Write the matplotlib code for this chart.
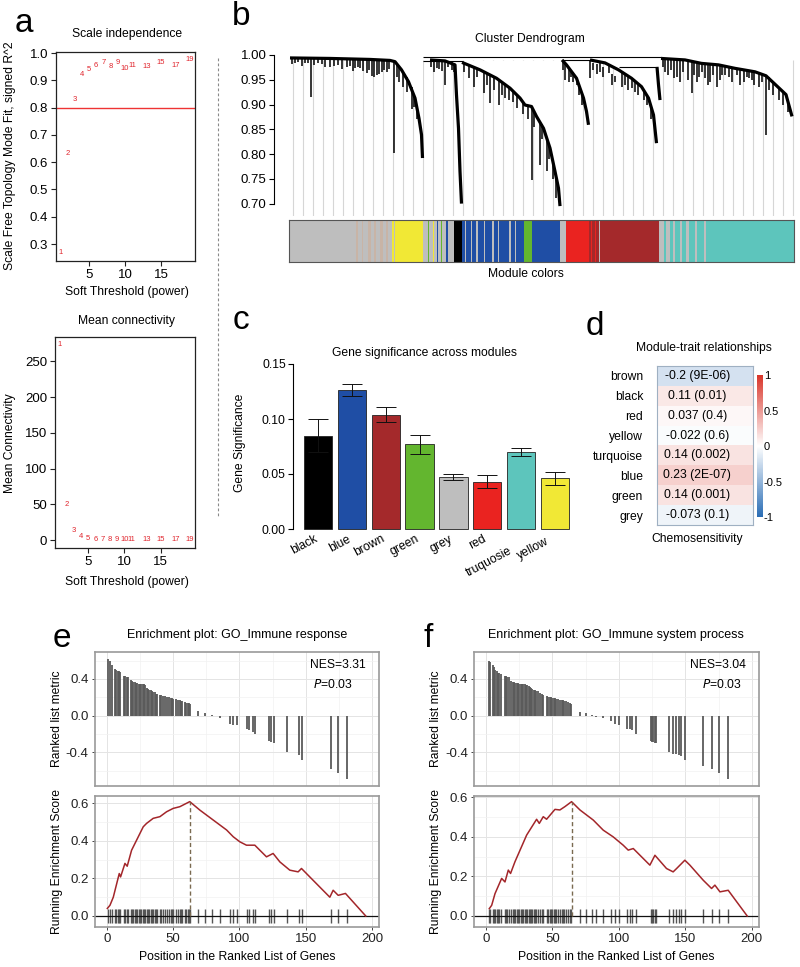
import numpy as np
import matplotlib
matplotlib.use("Agg")
import matplotlib.pyplot as plt
from matplotlib.colors import LinearSegmentedColormap
from matplotlib.lines import Line2D
from matplotlib.ticker import FormatStrFormatter

plt.rcParams["font.family"] = ["Liberation Sans", "DejaVu Sans"]
plt.rcParams["axes.unicode_minus"] = False

W, H = 800, 967

# ---------------- panel a: soft threshold ----------------
powers = [1, 2, 3, 4, 5, 6, 7, 8, 9, 10, 11, 13, 15, 17, 19]
sft_r2 = [0.27, 0.63, 0.828, 0.92, 0.941, 0.956, 0.964, 0.95, 0.964, 0.943,
          0.956, 0.952, 0.964, 0.953, 0.975]
mean_k = [274, 50, 13, 4.6, 2.3, 1.2, 0.7, 0.5, 0.3, 0.2, 0.15, 0.1, 0.06, 0.04, 0.03]

# ---------------- panel b: dendrogram ----------------
spine_a_x = [2, 82, 162, 202, 212, 225, 239, 252, 260, 265, 267]
spine_a_h = [0.994, 0.993, 0.991, 0.989, 0.9865, 0.97, 0.946, 0.913, 0.872, 0.839, 0.792]
spine_b_x = [282, 312, 332, 335, 339, 342, 345]
spine_b_h = [0.99, 0.988, 0.98, 0.919, 0.852, 0.765, 0.70]
spine_b2_x = [346, 382, 415, 442, 462, 472, 485, 495, 509, 522, 532, 539, 542]
spine_b2_h = [0.985, 0.97, 0.953, 0.933, 0.913, 0.899, 0.896, 0.876, 0.852, 0.812,
              0.765, 0.731, 0.695]
spine_c1_x = [546, 555, 575, 589, 595, 599]
spine_c1_h = [0.99, 0.98, 0.953, 0.913, 0.886, 0.859]
spine_c2_x = [602, 632, 659, 685, 705, 719, 729, 735]
spine_c2_h = [0.99, 0.984, 0.97, 0.953, 0.936, 0.913, 0.879, 0.822]
spine_c3_x = [736, 739, 742]
spine_c3_h = [0.976, 0.94, 0.909]
spine_d_x = [744, 792, 825, 859, 892, 932, 954, 973, 994, 1006]
spine_d_h = [0.993, 0.99, 0.983, 0.98, 0.973, 0.966, 0.958, 0.94, 0.92, 0.876]

join_left = [268, 268, 546, 659]
join_right = [744, 348, 602, 736]
join_h = [0.9968, 0.9885, 0.990, 0.976]

# branch drops hanging from the spines: leaf position, top, bottom
spike_x = [5, 12, 18, 25, 32, 38, 44, 50, 58, 65, 72, 82, 90, 98, 105, 115, 122, 128, 132,
           137, 142, 148, 155, 160, 165, 170, 175, 180, 185, 190, 195, 200, 209, 215, 220,
           228, 235, 245, 250, 256,
           284, 289, 295, 300, 305, 312, 318, 325, 330,
           350, 359, 369, 375, 389, 395, 402, 410, 419, 425, 432, 440, 448, 455, 468, 478,
           485, 490, 502, 505, 515, 520, 528, 534,
           548, 552, 559, 563, 568, 575, 580, 585,
           602, 608, 615, 622, 628, 639, 645, 652, 665, 672, 678, 685, 692, 698, 709, 715, 724,
           748, 752, 758, 763, 769, 775, 782, 788, 797, 805, 810, 815, 820, 826, 832, 838,
           842, 848, 855, 862, 866, 872, 880, 886, 895, 902, 910, 915, 919, 925, 929, 940,
           945, 954, 960, 968, 980, 988, 998]
spike_top = [0.994, 0.994, 0.994, 0.994, 0.994, 0.994, 0.994, 0.993, 0.993, 0.993, 0.993,
             0.993, 0.993, 0.993, 0.992, 0.992, 0.992, 0.992, 0.992, 0.991, 0.991, 0.991,
             0.991, 0.991, 0.991, 0.990, 0.990, 0.990, 0.990, 0.990, 0.989, 0.989, 0.990,
             0.982, 0.976, 0.966, 0.955, 0.935, 0.92, 0.90,
             0.99, 0.99, 0.99, 0.99, 0.989, 0.988, 0.988, 0.985, 0.982,
             0.983, 0.978, 0.974, 0.972, 0.966, 0.963, 0.96, 0.955, 0.95, 0.946, 0.94, 0.935,
             0.93, 0.92, 0.905, 0.897, 0.896, 0.888, 0.864, 0.86, 0.834, 0.818, 0.78, 0.755,
             0.99, 0.983, 0.975, 0.97, 0.965, 0.953, 0.94, 0.925,
             0.99, 0.984, 0.981, 0.985, 0.975, 0.978, 0.962, 0.958, 0.967, 0.96, 0.957, 0.953,
             0.948, 0.942, 0.93, 0.92, 0.895,
             0.993, 0.993, 0.992, 0.992, 0.992, 0.991, 0.991, 0.99, 0.989, 0.987, 0.986,
             0.985, 0.984, 0.983, 0.983, 0.982, 0.982, 0.981, 0.98, 0.98, 0.979, 0.977,
             0.976, 0.974, 0.972, 0.972, 0.97, 0.969, 0.969, 0.967, 0.967, 0.964, 0.963,
             0.958, 0.955, 0.948, 0.935, 0.928, 0.91]
spike_bottom = [0.982, 0.984, 0.985, 0.978, 0.983, 0.984, 0.916, 0.98, 0.983, 0.982, 0.975,
                0.976, 0.978, 0.98, 0.972, 0.976, 0.978, 0.968, 0.973, 0.975, 0.973, 0.968,
                0.963, 0.97, 0.958, 0.955, 0.96, 0.962, 0.966, 0.97, 0.966, 0.972, 0.802,
                0.955, 0.945, 0.935, 0.926, 0.89, 0.895, 0.87,
                0.976, 0.966, 0.973, 0.972, 0.968, 0.94, 0.975, 0.97, 0.965,
                0.965, 0.953, 0.936, 0.955, 0.923, 0.94, 0.903, 0.93, 0.899, 0.92, 0.913,
                0.91, 0.905, 0.893, 0.88, 0.87, 0.748, 0.855, 0.778, 0.83, 0.765, 0.79, 0.75,
                0.712,
                0.97, 0.95, 0.946, 0.955, 0.945, 0.94, 0.92, 0.9,
                0.954, 0.97, 0.962, 0.966, 0.955, 0.963, 0.94, 0.945, 0.936, 0.94, 0.93, 0.933,
                0.925, 0.92, 0.909, 0.9, 0.87,
                0.975, 0.966, 0.96, 0.97, 0.953, 0.955, 0.946, 0.965, 0.95, 0.923, 0.96,
                0.946, 0.955, 0.965, 0.953, 0.94, 0.946, 0.96, 0.936, 0.95, 0.96, 0.959,
                0.955, 0.945, 0.96, 0.94, 0.945, 0.955, 0.953, 0.95, 0.94, 0.935, 0.945,
                0.838, 0.93, 0.92, 0.91, 0.9, 0.885]

module_strip = ["grey",
                "tan", "grey", "tan", "grey", "tan", "grey", "tan", "grey", "tan", "grey", "tan", "grey",
                "grey", "yellow", "grey", "yellow",
                "grey", "green", "grey", "yellow", "grey", "blue", "grey", "green", "grey", "blue", "grey",
                "black",
                "blue", "grey", "blue", "grey", "blue", "grey", "blue", "grey", "blue", "grey",
                "blue", "grey", "blue", "grey", "blue", "grey", "blue",
                "green", "blue", "grey", "red",
                "brown", "red", "brown", "red", "brown", "grey", "brown",
                "brown",
                "grey", "turquoise", "grey", "turquoise", "grey", "turquoise", "grey", "turquoise",
                "grey", "turquoise", "grey", "turquoise", "grey", "turquoise",
                "turquoise"]
module_strip_width = [133,
                      4, 8, 3, 10, 6, 6, 3, 9, 5, 6, 4, 5,
                      4, 3, 3, 55,
                      10, 2, 8, 2, 6, 3, 5, 2, 8, 4, 12,
                      16,
                      6, 3, 10, 2, 8, 3, 12, 2, 15, 3,
                      9, 2, 20, 3, 8, 2, 17,
                      16, 55, 12, 46,
                      4, 2, 6, 3, 5, 2, 8,
                      110,
                      10, 4, 8, 6, 5, 10, 4, 8,
                      6, 12, 3, 15, 4, 22,
                      154]

module_hex = {"grey": "#bebebe", "tan": "#c8b4a6", "yellow": "#f1e835", "green": "#63b62f",
              "blue": "#1f4ea5", "black": "#000000", "red": "#ea2320", "brown": "#a4292b",
              "turquoise": "#5dc5bc"}

# ---------------- panel c: gene significance ----------------
gs_modules = ["black", "blue", "brown", "green", "grey", "red", "truquosie", "yellow"]
gs_colors = ["black", "blue", "brown", "green", "grey", "red", "turquoise", "yellow"]
gs_mean = [0.085, 0.126, 0.104, 0.077, 0.047, 0.043, 0.070, 0.046]
gs_err = [0.015, 0.0055, 0.0066, 0.0087, 0.0027, 0.006, 0.004, 0.006]

# ---------------- panel d: module-trait ----------------
trait_modules = ["brown", "black", "red", "yellow", "turquoise", "blue", "green", "grey"]
trait_cor = [-0.2, 0.11, 0.037, -0.022, 0.14, 0.23, 0.14, -0.073]
trait_p = ["9E-06", "0.01", "0.4", "0.6", "0.002", "2E-07", "0.001", "0.1"]

# ---------------- panel e: GO_Immune response ----------------
e_hits = [1, 2, 4, 6, 7, 8, 9, 10, 13, 14, 15, 16, 18, 19, 20, 21, 22, 23, 24, 25, 26, 27,
          28, 29, 30, 31, 32, 33, 34, 35, 36, 37, 38, 40, 41, 42, 44, 45, 47, 48, 49, 50,
          52, 54, 55, 56, 57, 59, 60, 61, 62, 63,
          69, 74, 79, 85, 93, 95, 98, 106, 107, 110, 112, 122, 124, 126, 136, 145, 147,
          169, 174, 181]
e_metric = [0.62, 0.60, 0.55, 0.51, 0.50, 0.49, 0.49, 0.48, 0.43, 0.43, 0.42, 0.42, 0.39,
            0.38, 0.37, 0.37, 0.36, 0.36, 0.35, 0.35, 0.35, 0.34, 0.34, 0.33, 0.30, 0.29,
            0.28, 0.28, 0.27, 0.26, 0.26, 0.24, 0.24, 0.23, 0.23, 0.22, 0.21, 0.20, 0.20,
            0.19, 0.19, 0.18, 0.18, 0.17, 0.17, 0.16, 0.16, 0.15, 0.14, 0.14, 0.14, 0.13,
            0.05, 0.03, 0.01, -0.02, -0.09, -0.10, -0.10, -0.14, -0.16, -0.18, -0.20,
            -0.28, -0.29, -0.30, -0.40, -0.43, -0.48, -0.58, -0.62, -0.69]
e_es_pos = [0.3, 2.3, 4.8, 9.3, 10.3, 13.6, 15.3, 18.6, 27.4, 29.9, 34.9, 40, 45, 50, 55,
            62.5, 70.1, 80.2, 90.3, 95.3, 100.3, 105.3, 111.6, 120.4, 125.4, 130.5, 138,
            144.3, 146.8, 155.6, 168.2, 170.7, 174.5, 180, 195.3]
e_es = [0.04, 0.057, 0.10, 0.226, 0.208, 0.28, 0.265, 0.35, 0.475, 0.493, 0.52, 0.529,
        0.555, 0.573, 0.582, 0.609, 0.564, 0.511, 0.458, 0.422, 0.395, 0.377, 0.377, 0.315,
        0.333, 0.288, 0.244, 0.235, 0.253, 0.19, 0.10, 0.137, 0.11, 0.12, 0.0]

# ---------------- panel f: GO_Immune system process ----------------
f_hits = [2, 3, 5, 6, 7, 8, 9, 10, 11, 14, 15, 16, 17, 19, 20, 21, 22, 23, 24, 25, 26, 27,
          28, 29, 30, 31, 32, 33, 34, 35, 36, 37, 38, 39, 41, 42, 43, 46, 47, 48, 49, 50,
          51, 52, 53, 54, 56, 57, 58, 59, 60, 62, 63, 64,
          71, 75, 80, 83, 88, 94, 97, 100, 106, 108, 110, 113, 124, 125, 126, 127, 128,
          138, 141, 143, 145, 147, 150, 163, 170, 175, 182]
f_metric = [0.60, 0.58, 0.55, 0.53, 0.50, 0.49, 0.47, 0.46, 0.45, 0.43, 0.43, 0.42, 0.42,
            0.38, 0.37, 0.37, 0.36, 0.36, 0.36, 0.35, 0.35, 0.35, 0.34, 0.34, 0.33, 0.33,
            0.32, 0.31, 0.30, 0.29, 0.28, 0.28, 0.27, 0.27, 0.25, 0.24, 0.23, 0.21, 0.20,
            0.20, 0.20, 0.19, 0.19, 0.19, 0.18, 0.18, 0.17, 0.17, 0.17, 0.16, 0.16, 0.15,
            0.14, 0.13,
            0.04, 0.03, 0.01, -0.01, -0.03, -0.06, -0.09, -0.10, -0.15, -0.15, -0.16, -0.20,
            -0.28, -0.29, -0.29, -0.30, -0.30, -0.40, -0.42, -0.42, -0.43, -0.44, -0.48,
            -0.55, -0.58, -0.62, -0.69]
f_es_pos = [2.5, 4.3, 6.8, 11.8, 14.3, 16.8, 18.5, 21.8, 30.6, 38.1, 40.1, 43.1, 45.6,
            51.9, 55.6, 59.4, 64.4, 70.7, 80.7, 88.2, 95.7, 103.2, 107, 110.8, 123.3, 127.1,
            135.8, 140.8, 143.4, 149.6, 153.4, 163.4, 169.7, 172.2, 176, 182.2, 196.5]
f_es = [0.037, 0.054, 0.113, 0.19, 0.172, 0.232, 0.215, 0.274, 0.409, 0.489, 0.468, 0.502,
        0.489, 0.539, 0.536, 0.553, 0.578, 0.536, 0.485, 0.434, 0.40, 0.358, 0.333, 0.341,
        0.257, 0.307, 0.24, 0.223, 0.24, 0.282, 0.257, 0.181, 0.139, 0.156, 0.122, 0.13, 0.0]


def px_axes(fig, left, top, right, bottom):
    return fig.add_axes([left / W, 1 - bottom / H, (right - left) / W, (bottom - top) / H])


def fig_text(fig, x, y, s, **kw):
    return fig.text(x / W, 1 - y / H, s, **kw)


def style_r_box(ax):
    for sp in ax.spines.values():
        sp.set_linewidth(0.9)
        sp.set_color("#222222")
    ax.tick_params(labelsize=9.5, length=3.5, width=0.8, color="#222222", pad=2)


def draw_soft_threshold(fig):
    red = "#e0242c"
    ax = px_axes(fig, 56, 52, 195, 261)
    ax.set_xlim(0.42, 19.72)
    ax.set_ylim(0.2377, 1.0037)
    ax.axhline(0.8, color="#ee3333", lw=1.0)
    for p, v in zip(powers, sft_r2):
        ax.text(p, v, str(p), color=red, fontsize=5.5, ha="center", va="center")
    ax.set_xticks([5, 10, 15])
    ax.set_yticks([0.3, 0.4, 0.5, 0.6, 0.7, 0.8, 0.9, 1.0])
    ax.yaxis.set_major_formatter(FormatStrFormatter("%.1f"))
    style_r_box(ax)
    fig_text(fig, 127, 34, "Scale independence", fontsize=8.7, ha="center", va="center")
    fig_text(fig, 127, 292, "Soft Threshold (power)", fontsize=8.7, ha="center", va="center")
    fig_text(fig, 10, 156, "Scale Free Topology Mode Fit, signed R^2", fontsize=8.7,
             rotation=90, ha="center", va="center")

    ax2 = px_axes(fig, 55, 337, 195, 548)
    ax2.set_xlim(0.42, 19.72)
    ax2.set_ylim(-11.2, 284.3)
    for p, v in zip(powers, mean_k):
        ax2.text(p, v, str(p), color=red, fontsize=5.5, ha="center", va="center")
    ax2.set_xticks([5, 10, 15])
    ax2.set_yticks([0, 50, 100, 150, 200, 250])
    style_r_box(ax2)
    fig_text(fig, 127, 321, "Mean connectivity", fontsize=8.7, ha="center", va="center")
    fig_text(fig, 127, 582, "Soft Threshold (power)", fontsize=8.7, ha="center", va="center")
    fig_text(fig, 10, 443, "Mean Connectivity", fontsize=8.7, rotation=90,
             ha="center", va="center")

    fig.add_artist(Line2D([218 / W, 218 / W], [1 - 58 / H, 1 - 518 / H],
                          transform=fig.transFigure, color="#8a8a8a", lw=0.8,
                          ls=(0, (2.5, 2))))


def draw_dendrogram(fig):
    ax = px_axes(fig, 274, 52, 797, 216)
    ax.set_xlim(-30, 1016)
    ax.set_ylim(0.675, 1.006)
    guides = np.arange(8, 1010, 20)
    ax.vlines(guides, 0.675, 0.99, color="#d6d6d6", lw=0.8, zorder=1)
    spines = [(spine_a_x, spine_a_h), (spine_b_x, spine_b_h), (spine_b2_x, spine_b2_h),
              (spine_c1_x, spine_c1_h), (spine_c2_x, spine_c2_h), (spine_c3_x, spine_c3_h),
              (spine_d_x, spine_d_h)]
    for sx, sh in spines:
        ax.fill_between(sx, sh, max(sh) + 0.004, color="white", lw=0, zorder=2)
    for sx, sh in spines:
        ax.plot(sx, sh, color="black", lw=2.3, solid_capstyle="butt", zorder=4)
    ax.vlines(spike_x, spike_bottom, spike_top, color="black", lw=1.1, zorder=4)
    ax.hlines(join_h, join_left, join_right, color="black", lw=0.8, zorder=4)
    for side in ["top", "right", "bottom"]:
        ax.spines[side].set_visible(False)
    ax.spines["left"].set_bounds(0.70, 1.00)
    ax.spines["left"].set_linewidth(0.8)
    ax.set_xticks([])
    ax.set_yticks([0.70, 0.75, 0.80, 0.85, 0.90, 0.95, 1.00])
    ax.yaxis.set_major_formatter(FormatStrFormatter("%.2f"))
    ax.tick_params(labelsize=9.5, length=3.5, width=0.8, pad=2)
    ax.patch.set_alpha(0)

    cb = px_axes(fig, 289, 220, 794, 262)
    lefts = np.concatenate([[0], np.cumsum(module_strip_width)[:-1]])
    cb.bar(lefts, 1, width=module_strip_width, align="edge",
           color=[module_hex[c] for c in module_strip], lw=0)
    cb.set_xlim(0, sum(module_strip_width))
    cb.set_ylim(0, 1)
    cb.set_xticks([])
    cb.set_yticks([])
    for sp in cb.spines.values():
        sp.set_linewidth(0.8)
        sp.set_color("#555555")

    fig_text(fig, 530, 39, "Cluster Dendrogram", fontsize=8.7, ha="center", va="center")
    fig_text(fig, 526, 274, "Module colors", fontsize=8.7, ha="center", va="center")


def draw_gene_significance(fig):
    ax = px_axes(fig, 293.4, 357.4, 579.6, 535.6)
    x = np.arange(len(gs_mean)) * 1.2 + 0.7
    ax.bar(x, gs_mean, width=1.0, color=[module_hex[c] for c in gs_colors],
           edgecolor="#222222", lw=0.6)
    ax.errorbar(x, gs_mean, yerr=gs_err, fmt="none", ecolor="#111111",
                elinewidth=0.7, capsize=7, capthick=0.7)
    ax.set_xlim(-0.176, 9.976)
    ax.set_ylim(-0.006, 0.156)
    for side in ["top", "right", "bottom"]:
        ax.spines[side].set_visible(False)
    ax.spines["left"].set_bounds(0, 0.15)
    ax.spines["left"].set_linewidth(0.8)
    ax.set_xticks([])
    ax.set_yticks([0, 0.05, 0.10, 0.15])
    ax.yaxis.set_major_formatter(FormatStrFormatter("%.2f"))
    ax.tick_params(labelsize=8.7, length=3.5, width=0.8, pad=2)
    nudge = {"truquosie": (-0.3, -0.011), "yellow": (-0.2, -0.002)}
    for xi, name in zip(x, gs_modules):
        dx, dy = nudge.get(name, (0.0, 0.0))
        ax.text(xi - 0.15 + dx, -0.0036 + dy, name, rotation=28, ha="right", va="top",
                rotation_mode="anchor", fontsize=8.7, clip_on=False)
    fig_text(fig, 425, 353, "Gene significance across modules", fontsize=8.7,
             ha="center", va="center")
    fig_text(fig, 240, 443, "Gene Significance", fontsize=8.7, rotation=90,
             ha="center", va="center")


def draw_module_trait(fig):
    cmap = LinearSegmentedColormap.from_list("bwr_wgcna", ["#2a6db5", "#ffffff", "#d9352a"])
    ax = px_axes(fig, 657, 366, 753, 525)
    n = len(trait_cor)
    im = ax.imshow(np.array(trait_cor).reshape(-1, 1), cmap=cmap, vmin=-1, vmax=1,
                   aspect="auto", extent=(0, 1, n, 0))
    for i, (c, p) in enumerate(zip(trait_cor, trait_p)):
        ax.text(0.42, i + 0.5, f"{c} ({p})", ha="center", va="center", fontsize=8.7)
    ax.set_xticks([])
    ax.set_yticks(np.arange(n) + 0.5)
    ax.set_yticklabels(trait_modules)
    ax.tick_params(length=0, labelsize=8.7, pad=10)
    for sp in ax.spines.values():
        sp.set_color("#9fb0c2")
        sp.set_linewidth(0.8)

    cax = px_axes(fig, 757, 375, 763, 517)
    cbar = fig.colorbar(im, cax=cax, ticks=[-1, -0.5, 0, 0.5, 1])
    cbar.ax.set_yticklabels(["-1", "-0.5", "0", "0.5", "1"])
    cbar.ax.tick_params(length=0, labelsize=8, pad=0.5)
    cbar.outline.set_visible(False)

    fig_text(fig, 704, 348, "Module-trait relationships", fontsize=8.7,
             ha="center", va="center")
    fig_text(fig, 697, 539, "Chemosensitivity", fontsize=8.7, ha="center", va="center")


def style_gg(ax):
    for sp in ax.spines.values():
        sp.set_color("#9a9a9a")
        sp.set_linewidth(1.2)
    ax.set_axisbelow(True)
    ax.grid(which="major", color="#e4e4e4", lw=0.7)
    ax.grid(which="minor", color="#f2f2f2", lw=0.5)
    ax.tick_params(which="major", labelsize=9.5, length=2.5, width=0.7,
                   color="#444444", labelcolor="#222222", pad=2)
    ax.tick_params(which="minor", length=0)


def draw_gsea(fig, left, right, hits, metric, es_pos, es, title, nes, ylim_es, p_x):
    top = px_axes(fig, left, 652, right, 786)
    top.vlines(hits, 0, metric, color="#5a5a5a", lw=1.3)
    top.set_xlim(-9, 205)
    top.set_ylim(-0.766, 0.694)
    top.set_xticks([0, 50, 100, 150, 200])
    top.set_xticks([25, 75, 125, 175], minor=True)
    top.set_yticks([-0.4, 0.0, 0.4])
    top.set_yticks([-0.6, -0.2, 0.2, 0.6], minor=True)
    top.yaxis.set_major_formatter(FormatStrFormatter("%.1f"))
    style_gg(top)
    top.tick_params(axis="x", which="both", length=0, labelbottom=False)
    top.text(0.955, 0.903, f"NES={nes}", transform=top.transAxes, ha="right",
             va="center", fontsize=8.7)
    top.text(p_x, 0.761, r"$\it{P}$=0.03", transform=top.transAxes, ha="left",
             va="center", fontsize=8.7)

    bot = px_axes(fig, left, 796, right, 927)
    bot.vlines(hits, -0.035, 0.035, color="#555555", lw=1.0)
    bot.axhline(0, color="#111111", lw=0.9)
    bot.plot(es_pos, es, color="#a3262a", lw=1.1)
    k = int(np.argmax(es))
    bot.plot([es_pos[k], es_pos[k]], [0, es[k]], color="#7a6a50", lw=1.0,
             ls=(0, (3, 2)))
    bot.set_xlim(-9, 205)
    bot.set_ylim(*ylim_es)
    bot.set_xticks([0, 50, 100, 150, 200])
    bot.set_xticks([25, 75, 125, 175], minor=True)
    bot.set_yticks([0.0, 0.2, 0.4, 0.6])
    bot.set_yticks([0.1, 0.3, 0.5], minor=True)
    bot.yaxis.set_major_formatter(FormatStrFormatter("%.1f"))
    style_gg(bot)

    cx = (left + right) / 2
    fig_text(fig, cx, 635, title, fontsize=9, ha="center", va="center")
    fig_text(fig, cx, 957, "Position in the Ranked List of Genes", fontsize=8.7,
             ha="center", va="center")
    fig_text(fig, left - 38, 719, "Ranked list metric", fontsize=8.7, rotation=90,
             ha="center", va="center")
    fig_text(fig, left - 38, 861, "Running Enrichment Score", fontsize=8.7, rotation=90,
             ha="center", va="center")


if __name__ == "__main__":
    fig = plt.figure(figsize=(W / 100, H / 100), dpi=100)

    draw_soft_threshold(fig)
    draw_dendrogram(fig)
    draw_gene_significance(fig)
    draw_module_trait(fig)
    draw_gsea(fig, 95, 378.6, e_hits, e_metric, e_es_pos, e_es,
              "Enrichment plot: GO_Immune response", "3.31", (-0.0587, 0.639), 0.77)
    draw_gsea(fig, 474, 758.5, f_hits, f_metric, f_es_pos, f_es,
              "Enrichment plot: GO_Immune system process", "3.04", (-0.0557, 0.6066), 0.80)

    for letter, x, y in [("a", 15, 32), ("b", 232, 25), ("c", 233, 329),
                         ("d", 586, 335), ("e", 53, 647), ("f", 423, 647)]:
        fig_text(fig, x, y, letter, fontsize=24, ha="left", va="baseline")

    fig.savefig("out.png", dpi=100)
